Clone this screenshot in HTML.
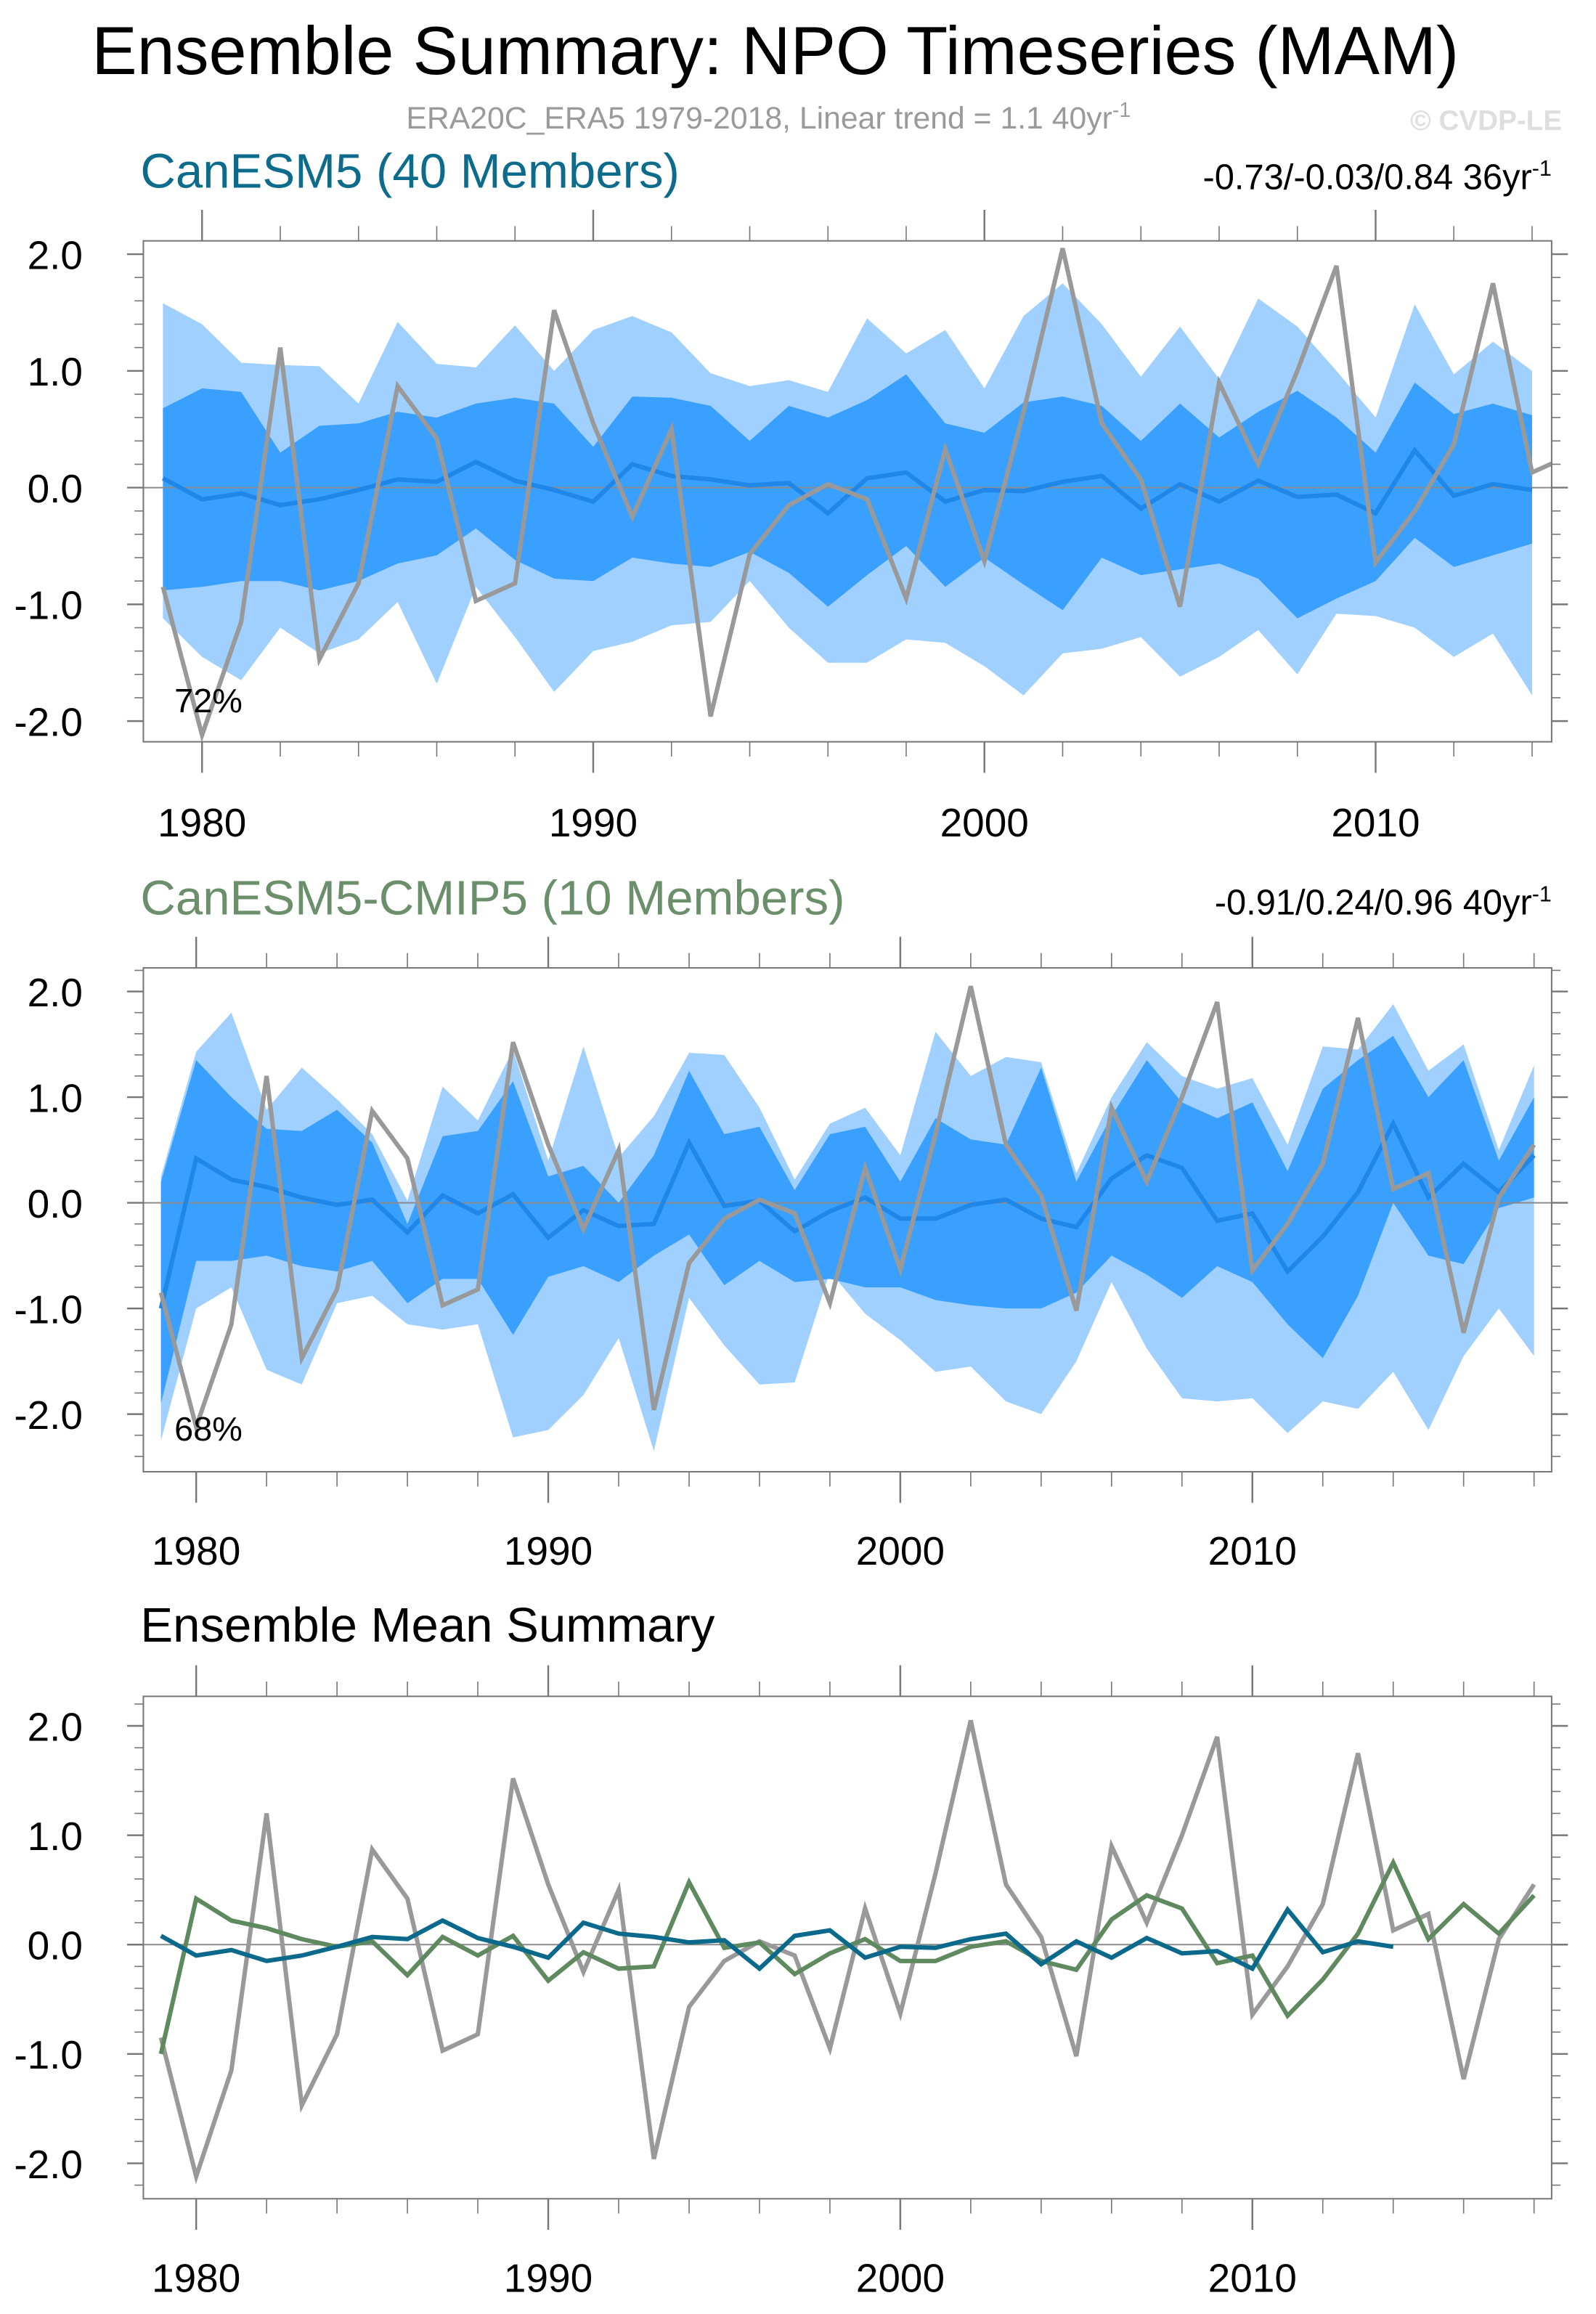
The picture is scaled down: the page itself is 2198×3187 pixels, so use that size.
<!DOCTYPE html>
<html><head><meta charset="utf-8"><style>
html,body{margin:0;padding:0;background:#fff;}
svg{display:block;font-family:"Liberation Sans",Arial,sans-serif;}
</style></head><body>
<svg id="chart" xmlns="http://www.w3.org/2000/svg" width="2198" height="3187" viewBox="0 0 1080 1566">
<rect x="0" y="0" width="1080" height="1566" fill="#fff"/>
<text x="62" y="50" font-size="46" fill="#000">Ensemble Summary: NPO Timeseries (MAM)</text>
<text x="520" y="87" font-size="21" fill="#9a9a9a" text-anchor="middle">ERA20C_ERA5 1979-2018, Linear trend = 1.1 40yr<tspan font-size="14" dy="-8">-1</tspan></text>
<text x="1057" y="88" font-size="19" font-weight="bold" fill="#dedede" text-anchor="end">© CVDP-LE</text>

<text x="95" y="127" font-size="33" fill="#0d6b8c">CanESM5 (40 Members)</text>
<text x="1050" y="128" font-size="24" fill="#000" text-anchor="end">-0.73/-0.03/0.84 36yr<tspan font-size="15" dy="-9">-1</tspan></text>
<text x="95" y="619" font-size="33" fill="#6a8f6a">CanESM5-CMIP5 (10 Members)</text>
<text x="1050" y="619" font-size="24" fill="#000" text-anchor="end">-0.91/0.24/0.96 40yr<tspan font-size="15" dy="-9">-1</tspan></text>
<text x="95" y="1111" font-size="33" fill="#000">Ensemble Mean Summary</text>
<g id="plots"></g>
</svg>
<script>
const obsYears = [1979,1980,1981,1982,1983,1984,1985,1986,1987,1988,1989,1990,1991,1992,1993,1994,1995,1996,1997,1998,1999,2000,2001,2002,2003,2004,2005,2006,2007,2008,2009,2010,2011,2012,2013,2014,2015,2016,2017,2018];
const obsValues = [-0.85,-2.12,-1.15,1.2,-1.47,-0.82,0.87,0.42,-0.97,-0.82,1.52,0.55,-0.25,0.5,-1.96,-0.57,-0.15,0.03,-0.1,-0.95,0.33,-0.63,0.65,2.05,0.55,0.07,-1.02,0.9,0.2,1.0,1.9,-0.64,-0.2,0.37,1.75,0.13,0.28,-1.23,0.05,0.55];

const cesmYears = obsYears.slice(0,36);
const cesmMean = [0.08,-0.1,-0.05,-0.15,-0.1,-0.02,0.07,0.05,0.22,0.06,-0.02,-0.12,0.2,0.1,0.07,0.02,0.04,-0.22,0.08,0.13,-0.12,-0.02,-0.03,0.05,0.1,-0.18,0.03,-0.12,0.06,-0.08,-0.06,-0.22,0.32,-0.07,0.03,-0.02];
const cesmMax = [1.58,1.4,1.07,1.05,1.04,0.72,1.42,1.06,1.03,1.39,1.0,1.35,1.47,1.33,0.98,0.87,0.92,0.82,1.45,1.15,1.35,0.85,1.47,1.75,1.4,0.95,1.38,0.93,1.62,1.38,1.0,0.6,1.57,0.97,1.25,1.0];
const cesmMin = [-1.12,-1.45,-1.65,-1.2,-1.42,-1.3,-0.98,-1.68,-0.85,-1.28,-1.75,-1.4,-1.32,-1.18,-1.15,-0.8,-1.2,-1.5,-1.5,-1.3,-1.33,-1.53,-1.78,-1.42,-1.38,-1.28,-1.62,-1.45,-1.22,-1.6,-1.08,-1.1,-1.2,-1.45,-1.25,-1.78];
const cesmHi = [0.68,0.85,0.82,0.3,0.53,0.55,0.65,0.6,0.72,0.77,0.72,0.35,0.78,0.77,0.7,0.4,0.7,0.6,0.75,0.97,0.55,0.47,0.73,0.78,0.7,0.4,0.72,0.43,0.65,0.83,0.6,0.3,0.9,0.63,0.72,0.62];
const cesmLo = [-0.88,-0.85,-0.8,-0.8,-0.88,-0.8,-0.65,-0.58,-0.35,-0.62,-0.78,-0.8,-0.6,-0.65,-0.68,-0.55,-0.73,-1.02,-0.75,-0.5,-0.85,-0.6,-0.83,-1.05,-0.6,-0.75,-0.7,-0.65,-0.78,-1.12,-0.95,-0.8,-0.43,-0.68,-0.58,-0.48];

const cmipYears = obsYears.slice();
const cmipMean = [-1.0,0.42,0.22,0.15,0.05,-0.02,0.03,-0.28,0.07,-0.1,0.08,-0.33,-0.07,-0.22,-0.2,0.57,-0.03,0.02,-0.27,-0.08,0.05,-0.15,-0.15,-0.02,0.03,-0.15,-0.23,0.23,0.45,0.33,-0.17,-0.1,-0.65,-0.32,0.1,0.75,0.05,0.37,0.1,0.45];
const cmipMax = [0.25,1.43,1.8,0.88,1.28,0.98,0.65,0.02,1.1,0.78,1.45,0.4,1.48,0.43,0.82,1.42,1.4,0.9,0.22,0.75,0.9,0.45,1.62,1.2,1.38,1.33,0.28,1.0,1.52,1.2,1.08,1.18,0.55,1.48,1.45,1.88,1.25,1.5,0.5,1.3];
const cmipMin = [-2.25,-1.0,-0.8,-1.58,-1.72,-0.95,-0.88,-1.15,-1.2,-1.15,-2.22,-2.15,-1.82,-1.28,-2.35,-0.9,-1.35,-1.72,-1.7,-0.65,-1.05,-1.3,-1.6,-1.55,-1.88,-2.0,-1.5,-0.75,-1.38,-1.85,-1.88,-1.85,-2.18,-1.88,-1.95,-1.6,-2.15,-1.45,-1.0,-1.45];
const cmipHi = [0.2,1.35,1.0,0.7,0.68,0.88,0.57,-0.2,0.63,0.68,1.15,0.25,0.35,0.0,0.45,1.25,0.65,0.72,0.12,0.65,0.72,0.2,0.8,0.6,0.55,1.28,0.2,0.82,1.35,0.95,0.8,0.95,0.3,1.08,1.35,1.58,1.0,1.35,0.4,1.0];
const cmipLo = [-1.9,-0.55,-0.55,-0.5,-0.6,-0.65,-0.55,-0.95,-0.72,-0.72,-1.25,-0.7,-0.6,-0.75,-0.5,-0.3,-0.78,-0.55,-0.75,-0.72,-0.8,-0.8,-0.92,-0.97,-1.0,-1.0,-0.85,-0.5,-0.68,-0.9,-0.6,-0.75,-1.15,-1.47,-0.88,0.0,-0.5,-0.58,-0.05,0.05];

const yTickValues = [-2,-1,0,1,2];
const yTickLabels = ["-2.0","-1.0","0.0","1.0","2.0"];
const xTickValues = [1980,1990,2000,2010];
const xTickLabels = ["1980","1990","2000","2010"];

const NS = "http://www.w3.org/2000/svg";
const root = document.getElementById("plots");
function mk(tag, attrs, parent){
  const e = document.createElementNS(NS, tag);
  for (const k in attrs) e.setAttribute(k, attrs[k]);
  (parent||root).appendChild(e);
  return e;
}

function makePanel(id, box, xmin, xmax, yZero, yPerUnit, labelY){
  const sx = v => box.x0 + (v - xmin) / (xmax - xmin) * (box.x1 - box.x0);
  const sy = v => yZero - v * yPerUnit;
  const g = mk("g", {});
  
  
  const cp = mk("clipPath", {id: id + "-clip"}, g);
  mk("rect", {x: box.x0, y: box.y0, width: box.x1 - box.x0, height: box.y1 - box.y0}, cp);
  const inner = mk("g", {"clip-path": "url(#" + id + "-clip)"}, g);
  return {sx, sy, g, inner, box, xmin, xmax, labelY};
}

function band(p, years, lo, hi, color, name){
  let d = "";
  years.forEach((y,i)=>{ d += (i?"L":"M") + p.sx(y).toFixed(2) + "," + p.sy(hi[i]).toFixed(2); });
  for (let i = years.length-1; i>=0; i--) d += "L" + p.sx(years[i]).toFixed(2) + "," + p.sy(lo[i]).toFixed(2);
  const e = mk("path", {d: d + "Z", fill: color, stroke: "none"}, p.inner);
  
  
}
function line(p, years, vals, color, w, name){
  const pts = years.map((y,i)=> p.sx(y).toFixed(2) + "," + p.sy(vals[i]).toFixed(2)).join(" ");
  const e = mk("polyline", {points: pts, fill: "none", stroke: color, "stroke-width": w, "stroke-linejoin": "miter"}, p.inner);
  
  
}
function zeroLine(p){
  const e = mk("line", {x1: p.box.x0, x2: p.box.x1, y1: p.sy(0), y2: p.sy(0), stroke: "#8a8a8a", "stroke-width": 1}, p.inner);
  
  
}
function axes(p){
  const b = p.box, g = p.g;
  const fr = mk("rect", {x: b.x0, y: b.y0, width: b.x1-b.x0, height: b.y1-b.y0, fill: "none", stroke: "#777", "stroke-width": 1}, g);
  
  
  for (let v = -2.4; v <= 2.41; v += 0.2) {
    const vv = Math.round(v*10)/10;
    const y = p.sy(vv);
    if (y < b.y0 - 0.5 || y > b.y1 + 0.5) continue;
    const major = Math.abs(vv - Math.round(vv)) < 1e-6;
    const len = major ? 11 : 6;
    mk("line", {x1: b.x0 - len, x2: b.x0, y1: y, y2: y, stroke: "#777", "stroke-width": major?1.2:0.8}, g);
    mk("line", {x1: b.x1, x2: b.x1 + len, y1: y, y2: y, stroke: "#777", "stroke-width": major?1.2:0.8}, g);
  }
  yTickValues.forEach((v,i)=>{
    const t = mk("text", {x: 56, y: p.sy(v) + 10, "font-size": 27, "text-anchor": "end", fill: "#000"}, g);
    t.textContent = yTickLabels[i];
    
    
  });
  for (let yr = Math.ceil(p.xmin); yr <= p.xmax; yr++) {
    if (yr % 2) continue;
    const x = p.sx(yr);
    const major = yr % 10 === 0;
    const len = major ? 21 : 10;
    mk("line", {x1: x, x2: x, y1: b.y0 - len, y2: b.y0, stroke: "#777", "stroke-width": major?1.2:0.8}, g);
    mk("line", {x1: x, x2: x, y1: b.y1, y2: b.y1 + len, stroke: "#777", "stroke-width": major?1.2:0.8}, g);
  }
  xTickValues.forEach((v,i)=>{
    const t = mk("text", {x: p.sx(v), y: p.labelY, "font-size": 27, "text-anchor": "middle", fill: "#000"}, g);
    t.textContent = xTickLabels[i];
    
    
  });
}
function pct(p, txt, x, y){
  const t = mk("text", {x: x, y: y, "font-size": 23, fill: "#000"}, p.g);
  t.textContent = txt;
  
  
}

const p1 = makePanel("panel1", {x0:97, x1:1050, y0:163, y1:502}, 1978.5, 2014.5, 330, 79, 566);
band(p1, cesmYears, cesmMin, cesmMax, "#a0d0ff", "canesm5-range-band");
band(p1, cesmYears, cesmLo, cesmHi, "#3aa0ff", "canesm5-inner-band");
zeroLine(p1);
line(p1, cesmYears, cesmMean, "#1f87e8", 3, "canesm5-ensemble-mean-line");
line(p1, obsYears, obsValues, "#999999", 3, "observed-npo-line");
axes(p1);
pct(p1, "72%", 118, 482);

const p2 = makePanel("panel2", {x0:97, x1:1050, y0:655, y1:996}, 1978.5, 2018.5, 814, 71.5, 1059);
band(p2, cmipYears, cmipMin, cmipMax, "#a0d0ff", "cmip5-range-band");
band(p2, cmipYears, cmipLo, cmipHi, "#3aa0ff", "cmip5-inner-band");
zeroLine(p2);
line(p2, cmipYears, cmipMean, "#1f87e8", 3, "cmip5-ensemble-mean-line");
line(p2, obsYears, obsValues, "#999999", 3, "observed-npo-line");
axes(p2);
pct(p2, "68%", 118, 975);

const p3 = makePanel("panel3", {x0:97, x1:1050, y0:1148, y1:1488}, 1978.5, 2018.5, 1316, 74, 1551);
zeroLine(p3);
line(p3, obsYears, obsValues, "#999999", 3, "observed-npo-line");
line(p3, cmipYears, cmipMean, "#5f8a5f", 3, "cmip5-ensemble-mean-line");
line(p3, cesmYears, cesmMean, "#0b6a8c", 3, "canesm5-ensemble-mean-line");
axes(p3);
</script>
</body></html>
